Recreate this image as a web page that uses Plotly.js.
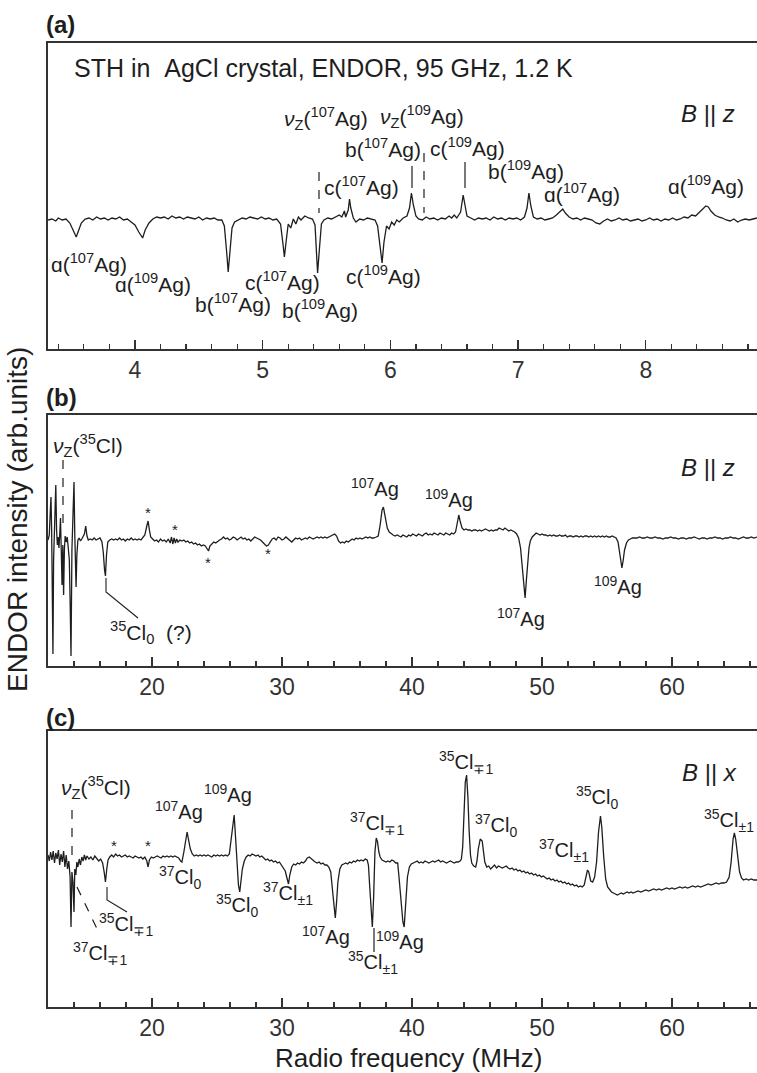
<!DOCTYPE html>
<html>
<head>
<meta charset="utf-8">
<script src="https://cdn.plot.ly/plotly-3.0.1.min.js"></script>
<style>html,body{margin:0;padding:0;background:#fff;}#chart{width:757px;height:1073px;}</style>
</head>
<body>
<div id="chart"></div>
<script>
// ---- Data: [frequency (MHz), ENDOR intensity (arb.)] ----
const specA = [[3.32,0],[3.35,1],[3.38,-1],[3.40,2],[3.43,0],[3.46,1],[3.49,-3],[3.52,-12],[3.54,-17],[3.56,-10],[3.58,-3],[3.61,1],[3.64,2],[3.67,0],[3.70,3],[3.73,1],[3.76,2],[3.79,0],[3.82,2],[3.85,1],[3.88,3],[3.91,0],[3.94,1],[3.97,-2],[4.00,-5],[4.03,-12],[4.06,-18],[4.08,-10],[4.11,-3],[4.14,1],[4.17,3],[4.20,2],[4.23,3],[4.26,1],[4.29,4],[4.32,2],[4.35,3],[4.38,1],[4.41,3],[4.44,2],[4.47,1],[4.50,3],[4.53,0],[4.56,2],[4.59,1],[4.62,2],[4.65,0],[4.68,0],[4.70,-6],[4.72,-35],[4.73,-52],[4.745,-30],[4.76,-8],[4.78,-2],[4.81,0],[4.84,2],[4.87,1],[4.90,3],[4.93,2],[4.96,1],[4.99,3],[5.02,1],[5.05,2],[5.08,0],[5.11,1],[5.14,-4],[5.16,-25],[5.17,-37],[5.185,-20],[5.20,-4],[5.22,-8],[5.24,1],[5.26,-4],[5.28,3],[5.30,0],[5.33,4],[5.36,2],[5.39,1],[5.41,-5],[5.42,-30],[5.43,-53],[5.445,-28],[5.46,-4],[5.48,0],[5.51,2],[5.54,1],[5.57,3],[5.60,5],[5.62,3],[5.64,9],[5.65,3],[5.67,10],[5.68,21],[5.69,12],[5.71,2],[5.73,-2],[5.76,1],[5.79,0],[5.82,2],[5.85,1],[5.88,0],[5.90,-6],[5.92,-25],[5.935,-43],[5.95,-22],[5.97,-6],[5.99,-9],[6.01,-2],[6.03,-5],[6.05,0],[6.07,-2],[6.10,2],[6.13,4],[6.15,12],[6.165,27],[6.18,15],[6.20,4],[6.22,1],[6.25,0],[6.28,3],[6.31,1],[6.34,2],[6.37,0],[6.40,2],[6.43,1],[6.46,4],[6.48,2],[6.50,5],[6.52,2],[6.55,8],[6.57,25],[6.585,14],[6.60,4],[6.63,2],[6.66,0],[6.69,2],[6.72,1],[6.75,2],[6.78,0],[6.81,3],[6.84,1],[6.87,2],[6.90,0],[6.93,2],[6.96,1],[6.99,2],[7.02,0],[7.05,3],[7.07,12],[7.085,27],[7.10,14],[7.12,3],[7.15,1],[7.18,2],[7.21,0],[7.24,1],[7.27,2],[7.30,5],[7.33,9],[7.35,11],[7.37,7],[7.40,3],[7.43,1],[7.46,2],[7.49,0],[7.52,2],[7.55,1],[7.58,0],[7.61,-3],[7.64,-4],[7.67,-1],[7.70,1],[7.73,-1],[7.76,0],[7.79,2],[7.82,0],[7.85,1],[7.88,-1],[7.91,0],[7.94,1],[7.97,-1],[8.00,0],[8.03,2],[8.06,0],[8.09,1],[8.12,-1],[8.15,1],[8.18,0],[8.21,2],[8.24,0],[8.27,1],[8.30,3],[8.33,2],[8.36,5],[8.39,4],[8.42,8],[8.45,12],[8.47,14],[8.49,13],[8.51,9],[8.54,5],[8.57,3],[8.60,2],[8.63,0],[8.66,-1],[8.69,1],[8.72,-2],[8.75,0],[8.78,1],[8.81,0],[8.84,1],[8.87,2]];

const specB = [[12.00,0],[12.10,5],[12.18,30],[12.23,43],[12.28,10],[12.33,-60],[12.38,-114],[12.43,-20],[12.48,5],[12.53,20],[12.60,55],[12.66,10],[12.72,-5],[12.78,3],[12.84,-8],[12.90,5],[12.96,22],[13.02,-10],[13.08,-45],[13.14,-5],[13.20,-55],[13.26,-10],[13.32,4],[13.40,-2],[13.48,3],[13.56,-8],[13.64,-20],[13.70,-60],[13.77,-116],[13.84,-10],[13.92,20],[14.00,58],[14.06,5],[14.12,-30],[14.16,-47],[14.22,-15],[14.30,0],[14.40,2],[14.50,-1],[14.60,1],[14.70,3],[14.80,6],[14.90,14],[15.00,4],[15.10,0],[15.25,1],[15.40,0],[15.55,2],[15.70,0],[15.85,1],[16.00,2],[16.15,-2],[16.25,-12],[16.35,-30],[16.42,-36],[16.50,-15],[16.60,-2],[16.75,0],[16.90,1],[17.05,0],[17.20,1],[17.35,0],[17.50,2],[17.65,0],[17.80,1],[17.95,-1],[18.10,1],[18.25,0],[18.40,2],[18.55,0],[18.70,1],[18.85,0],[19.00,1],[19.15,0],[19.30,2],[19.45,5],[19.60,14],[19.70,19],[19.80,10],[19.90,3],[20.05,1],[20.20,-1],[20.35,0],[20.50,-2],[20.65,1],[20.80,-1],[20.95,0],[21.10,-2],[21.25,1],[21.40,-3],[21.50,3],[21.60,-4],[21.70,2],[21.80,-3],[21.90,1],[22.00,-2],[22.15,0],[22.30,-1],[22.45,0],[22.60,-2],[22.75,-1],[22.90,-3],[23.05,-2],[23.20,-4],[23.35,-3],[23.50,-5],[23.65,-4],[23.80,-6],[23.95,-5],[24.10,-6],[24.25,-9],[24.35,-11],[24.45,-6],[24.60,-4],[24.75,-2],[24.90,-3],[25.05,-1],[25.20,0],[25.35,1],[25.50,3],[25.65,1],[25.80,2],[25.95,0],[26.10,1],[26.25,3],[26.40,2],[26.55,0],[26.70,2],[26.85,3],[27.00,1],[27.15,2],[27.30,0],[27.45,1],[27.60,-1],[27.75,1],[27.90,3],[28.05,2],[28.20,1],[28.35,0],[28.50,-2],[28.65,-4],[28.80,-6],[28.95,-5],[29.10,-2],[29.25,1],[29.40,2],[29.55,0],[29.70,3],[29.85,2],[30.00,0],[30.15,1],[30.30,3],[30.45,1],[30.60,-1],[30.75,-2],[30.90,0],[31.05,2],[31.20,1],[31.35,2],[31.50,0],[31.65,1],[31.80,2],[31.95,1],[32.10,3],[32.25,2],[32.40,1],[32.55,2],[32.70,3],[32.85,2],[33.00,3],[33.15,2],[33.30,3],[33.45,2],[33.60,3],[33.75,4],[33.90,5],[34.05,6],[34.20,4],[34.35,-1],[34.50,-3],[34.65,-2],[34.80,-3],[34.95,-1],[35.10,-2],[35.25,0],[35.40,1],[35.55,0],[35.70,2],[35.85,1],[36.00,2],[36.15,1],[36.30,2],[36.45,3],[36.60,2],[36.75,3],[36.90,2],[37.05,2],[37.25,3],[37.40,4],[37.55,15],[37.70,30],[37.80,33],[37.90,27],[38.00,18],[38.10,12],[38.25,8],[38.40,6],[38.55,5],[38.70,4],[38.85,5],[39.00,4],[39.15,3],[39.30,5],[39.45,4],[39.60,3],[39.75,5],[39.90,4],[40.05,6],[40.20,5],[40.35,4],[40.50,6],[40.65,5],[40.80,4],[40.95,6],[41.10,7],[41.25,5],[41.40,6],[41.55,5],[41.70,7],[41.85,6],[42.00,5],[42.15,7],[42.30,6],[42.45,5],[42.60,7],[42.75,6],[42.90,5],[43.05,7],[43.20,6],[43.35,8],[43.50,17],[43.60,25],[43.70,19],[43.85,12],[44.00,10],[44.15,11],[44.30,10],[44.45,10],[44.60,9],[44.75,10],[44.90,10],[45.05,9],[45.20,10],[45.35,9],[45.50,10],[45.65,11],[45.80,10],[45.95,9],[46.10,10],[46.25,9],[46.40,10],[46.55,10],[46.70,12],[46.85,11],[47.00,10],[47.15,12],[47.30,10],[47.45,9],[47.60,10],[47.75,9],[47.90,8],[48.05,6],[48.20,2],[48.35,-8],[48.50,-28],[48.60,-45],[48.70,-58],[48.80,-40],[48.90,-20],[49.00,-8],[49.10,-1],[49.25,3],[49.40,5],[49.55,7],[49.70,6],[49.85,5],[50.00,6],[50.15,5],[50.30,5],[50.45,4],[50.60,5],[50.75,4],[50.90,5],[51.05,4],[51.20,4],[51.35,5],[51.50,4],[51.65,4],[51.80,5],[51.95,3],[52.10,4],[52.25,4],[52.40,3],[52.55,4],[52.70,4],[52.85,3],[53.00,4],[53.15,3],[53.30,4],[53.45,4],[53.60,3],[53.75,4],[53.90,3],[54.05,4],[54.20,3],[54.35,4],[54.50,3],[54.65,4],[54.80,3],[54.95,4],[55.10,3],[55.25,3],[55.40,4],[55.55,3],[55.70,2],[55.85,-2],[55.95,-10],[56.05,-22],[56.15,-28],[56.25,-20],[56.35,-10],[56.50,-3],[56.65,0],[56.80,1],[56.95,2],[57.10,2],[57.30,2],[57.50,3],[57.70,2],[57.90,2],[58.10,3],[58.30,2],[58.50,2],[58.70,3],[58.90,2],[59.10,2],[59.30,1],[59.50,2],[59.70,2],[59.90,3],[60.10,2],[60.30,2],[60.50,1],[60.70,2],[60.90,2],[61.10,1],[61.30,2],[61.50,2],[61.70,3],[61.90,2],[62.10,1],[62.30,2],[62.50,2],[62.70,1],[62.90,2],[63.10,2],[63.30,3],[63.50,2],[63.70,2],[63.90,1],[64.10,2],[64.30,2],[64.50,3],[64.70,2],[64.90,2],[65.10,1],[65.30,2],[65.50,3],[65.70,2],[65.90,2],[66.10,3],[66.30,2],[66.55,3]];

const specC = [[12.00,2],[12.10,-4],[12.20,5],[12.30,-3],[12.40,6],[12.50,-6],[12.60,4],[12.70,-2],[12.80,7],[12.90,-8],[13.00,3],[13.10,-5],[13.20,6],[13.30,-10],[13.40,2],[13.50,-12],[13.60,-4],[13.70,-20],[13.77,-70],[13.84,-15],[13.92,-25],[14.00,-55],[14.06,-12],[14.14,-18],[14.22,-5],[14.30,-10],[14.40,-2],[14.50,-8],[14.60,0],[14.70,-4],[14.80,2],[14.90,-3],[15.00,1],[15.15,-2],[15.30,0],[15.45,-3],[15.60,1],[15.75,-1],[15.90,-4],[16.05,-2],[16.20,-6],[16.32,-15],[16.42,-25],[16.52,-12],[16.62,-3],[16.75,0],[16.90,2],[17.05,0],[17.20,3],[17.35,1],[17.50,2],[17.65,0],[17.80,1],[17.95,2],[18.10,0],[18.25,1],[18.40,0],[18.55,-1],[18.70,1],[18.85,0],[19.00,-1],[19.15,0],[19.30,-2],[19.45,0],[19.60,-4],[19.70,-10],[19.80,-3],[19.95,0],[20.10,-1],[20.25,0],[20.40,1],[20.55,0],[20.70,-1],[20.85,1],[21.00,0],[21.15,1],[21.30,0],[21.45,1],[21.60,0],[21.75,1],[21.90,0],[22.05,-1],[22.20,-4],[22.30,-5],[22.45,5],[22.60,20],[22.70,25],[22.80,18],[22.95,8],[23.10,3],[23.25,1],[23.40,2],[23.55,1],[23.70,2],[23.85,1],[24.00,2],[24.15,1],[24.30,2],[24.45,1],[24.60,0],[24.75,2],[24.90,1],[25.05,2],[25.20,1],[25.35,2],[25.50,1],[25.65,2],[25.80,1],[25.95,3],[26.10,20],[26.25,38],[26.32,42],[26.45,15],[26.55,-10],[26.65,-28],[26.75,-35],[26.85,-25],[26.95,-12],[27.10,-4],[27.25,0],[27.40,2],[27.55,1],[27.70,3],[27.85,2],[28.00,1],[28.15,2],[28.30,0],[28.45,1],[28.60,-1],[28.75,-3],[28.90,-2],[29.05,-4],[29.20,-3],[29.35,-5],[29.50,-4],[29.65,-6],[29.80,-5],[29.95,-8],[30.10,-10],[30.25,-14],[30.40,-22],[30.50,-27],[30.60,-18],[30.75,-10],[30.90,-7],[31.05,-8],[31.20,-6],[31.35,-7],[31.50,-5],[31.65,-6],[31.80,-4],[31.95,-1],[32.10,0],[32.25,-2],[32.40,-4],[32.55,-5],[32.70,-6],[32.85,-5],[33.00,-7],[33.15,-6],[33.30,-8],[33.45,-8],[33.60,-10],[33.75,-15],[33.90,-35],[34.00,-50],[34.10,-61],[34.20,-45],[34.30,-25],[34.45,-12],[34.60,-8],[34.75,-7],[34.90,-6],[35.05,-7],[35.20,-5],[35.35,-6],[35.50,-4],[35.65,-5],[35.80,-3],[35.95,-4],[36.10,-3],[36.25,-4],[36.40,-2],[36.55,-3],[36.65,-8],[36.75,-30],[36.85,-55],[36.95,-70],[37.05,-40],[37.15,5],[37.25,19],[37.35,15],[37.45,5],[37.55,0],[37.70,-3],[37.85,-4],[38.00,-5],[38.15,-4],[38.30,-5],[38.45,-3],[38.60,-4],[38.75,-6],[38.90,-6],[39.00,-20],[39.15,-45],[39.30,-65],[39.40,-70],[39.50,-45],[39.65,-20],[39.80,-10],[39.95,-7],[40.10,-6],[40.25,-5],[40.40,-4],[40.55,-6],[40.70,-5],[40.85,-6],[41.00,-4],[41.15,-5],[41.30,-6],[41.45,-5],[41.60,-4],[41.75,-5],[41.90,-4],[42.05,-3],[42.20,-5],[42.35,-4],[42.50,-5],[42.65,-6],[42.80,-5],[42.95,-4],[43.10,-5],[43.25,-6],[43.40,-5],[43.55,-5],[43.70,-4],[43.80,-2],[43.90,10],[44.00,45],[44.10,75],[44.20,82],[44.30,60],[44.40,25],[44.50,2],[44.60,-6],[44.75,-9],[44.90,-10],[45.00,-4],[45.10,8],[45.25,18],[45.40,16],[45.50,5],[45.60,-5],[45.75,-10],[45.90,-9],[46.05,-12],[46.20,-10],[46.35,-8],[46.50,-11],[46.65,-9],[46.80,-10],[46.95,-11],[47.10,-10],[47.25,-9],[47.40,-11],[47.55,-12],[47.70,-11],[47.85,-13],[48.00,-12],[48.15,-14],[48.30,-13],[48.45,-15],[48.60,-14],[48.75,-16],[48.90,-15],[49.05,-17],[49.20,-16],[49.35,-18],[49.50,-17],[49.65,-19],[49.80,-18],[49.95,-20],[50.10,-19],[50.25,-21],[50.40,-22],[50.55,-21],[50.70,-23],[50.85,-22],[51.00,-24],[51.15,-23],[51.30,-25],[51.45,-24],[51.60,-26],[51.75,-25],[51.90,-27],[52.05,-26],[52.20,-28],[52.35,-27],[52.50,-29],[52.65,-28],[52.80,-30],[52.95,-29],[53.10,-30],[53.25,-28],[53.40,-18],[53.50,-13],[53.60,-15],[53.75,-24],[53.90,-25],[54.05,-20],[54.20,-5],[54.35,25],[54.50,41],[54.60,30],[54.75,0],[54.90,-22],[55.05,-30],[55.20,-33],[55.35,-35],[55.50,-36],[55.65,-37],[55.80,-38],[55.95,-37],[56.10,-36],[56.25,-37],[56.40,-36],[56.55,-35],[56.70,-36],[56.85,-35],[57.00,-36],[57.20,-35],[57.40,-34],[57.60,-35],[57.80,-34],[58.00,-33],[58.20,-34],[58.40,-33],[58.60,-32],[58.80,-33],[59.00,-32],[59.20,-33],[59.40,-32],[59.60,-31],[59.80,-32],[60.00,-31],[60.20,-32],[60.40,-31],[60.60,-30],[60.80,-31],[61.00,-30],[61.20,-31],[61.40,-30],[61.60,-29],[61.80,-30],[62.00,-29],[62.20,-30],[62.40,-29],[62.60,-28],[62.80,-27],[63.00,-28],[63.20,-27],[63.40,-26],[63.60,-27],[63.80,-26],[64.00,-26],[64.20,-25],[64.40,-20],[64.55,-5],[64.70,18],[64.80,24],[64.90,18],[65.05,0],[65.20,-15],[65.35,-21],[65.50,-23],[65.70,-22],[65.90,-23],[66.10,-22],[66.30,-23],[66.55,-23]];

const panelLabels = ["(a)", "(b)", "(c)"];
const xTitle = "Radio frequency (MHz)";
const yTitle = "ENDOR intensity (arb.units)";

// ---- Layout helpers (pixel -> paper) ----
const W = 757, H = 1073;
const PX = p => p / W, PY = p => 1 - p / H;
const FONT = "Liberation Sans, Arial, sans-serif";
const INK = "#1e1e1e";

const traceStyle = {type: "scatter", mode: "lines", line: {color: INK, width: 1.3}, hoverinfo: "skip"};
const data = [
  Object.assign({x: specA.map(d => d[0]), y: specA.map(d => d[1]), xaxis: "x", yaxis: "y"}, traceStyle),
  Object.assign({x: specB.map(d => d[0]), y: specB.map(d => d[1]), xaxis: "x2", yaxis: "y2"}, traceStyle),
  Object.assign({x: specC.map(d => d[0]), y: specC.map(d => d[1]), xaxis: "x3", yaxis: "y3"}, traceStyle)
];

function xax(range, dtick, minor, anchor) {
  return {
    domain: [PX(48), 1], range: range, anchor: anchor,
    showline: true, linecolor: "#333", linewidth: 1.8, mirror: true,
    ticks: "inside", ticklen: 9, tickwidth: 1.3, tickcolor: "#333",
    dtick: dtick, tick0: 0,
    minor: {dtick: minor, ticks: "inside", ticklen: 5, tickwidth: 1.2, tickcolor: "#333"},
    tickfont: {family: FONT, size: 23, color: "#333"},
    ticklabelstandoff: 0,
    showgrid: false, zeroline: false, fixedrange: true
  };
}
function yax(range, top, bottom, anchor) {
  return {
    domain: [PY(bottom), PY(top)], range: range, anchor: anchor,
    showline: true, linecolor: "#333", linewidth: 1.8, mirror: false,
    ticks: "", showticklabels: false, showgrid: false, zeroline: false, fixedrange: true
  };
}

const annotations = [];
function A(text, px, py, size, extra) {
  annotations.push(Object.assign({
    text: text, xref: "paper", yref: "paper", x: PX(px), y: PY(py),
    xanchor: "center", yanchor: "middle", showarrow: false,
    font: {family: FONT, size: size || 21, color: INK}
  }, extra || {}));
}
const shapes = [];
function L(x0, y0, x1, y1, dash) {
  shapes.push({type: "line", xref: "paper", yref: "paper", x0: PX(x0), y0: PY(y0), x1: PX(x1), y1: PY(y1),
    line: {color: INK, width: 1.2, dash: dash ? "dash" : "solid"}});
}
function Path(pts) {
  let d = "M" + pts.map(p => PX(p[0]) + "," + PY(p[1])).join(" L");
  shapes.push({type: "path", xref: "paper", yref: "paper", path: d, line: {color: INK, width: 1.1}});
}
const sup = s => "<sup>" + s + "</sup>";
const sub = s => "<sub>" + s + "</sub>";
const nu = s => "<i>ν</i>" + sub("Z") + "(" + s + ")";
const ag = (l, m) => l + "(" + sup(m) + "Ag)";
const cl = (m, s) => sup(m) + "Cl" + sub(s);

// panel labels and titles
A("<b>" + panelLabels[0] + "</b>", 60, 24, 24);
A("<b>" + panelLabels[1] + "</b>", 61, 397, 24);
A("<b>" + panelLabels[2] + "</b>", 60, 717, 24);
A(xTitle, 408, 1058, 26);
A(yTitle, 17, 520, 28, {textangle: -90});

// ---- panel (a) ----
A("STH in\u00a0\u00a0AgCl crystal, ENDOR, 95 GHz, 1.2 K", 72, 68, 25, {xanchor: "left"});
A("<i>B</i> || <i>z</i>", 708, 113, 24);
A(nu(sup("107") + "Ag"), 326, 118);
A(nu(sup("109") + "Ag"), 422, 117);
A(ag("b", "107"), 383, 148);
A(ag("c", "107"), 361, 186);
A(ag("c", "109"), 467, 147);
A(ag("b", "109"), 526, 170);
A(ag("ɑ", "107"), 582, 193);
A(ag("ɑ", "109"), 706, 185);
A(ag("ɑ", "107"), 89, 263);
A(ag("ɑ", "109"), 153, 283);
A(ag("b", "107"), 233, 303);
A(ag("c", "107"), 282, 281);
A(ag("b", "109"), 320, 309);
A(ag("c", "109"), 383, 275);
L(319, 172, 319, 213, true);
L(412, 166, 412, 188, false);
L(424, 153, 424, 213, true);
L(465, 162, 465, 188, false);

// ---- panel (b) ----
A(nu(sup("35") + "Cl"), 88, 445);
L(63, 460, 63, 532, true);
A("*", 148, 512, 15); A("*", 175, 529, 15); A("*", 208, 562, 15); A("*", 268, 553, 15);
Path([[106, 578], [106, 592], [138, 618]]);
A(cl("35", "0") + "\u00a0\u00a0(?)", 151, 632);
A(sup("107") + "Ag", 375, 487, 20);
A(sup("109") + "Ag", 449, 498, 20);
A(sup("107") + "Ag", 521, 617, 20);
A(sup("109") + "Ag", 618, 585, 20);
A("<i>B</i> || <i>z</i>", 708, 467, 24);

// ---- panel (c) ----
A(nu(sup("35") + "Cl"), 96, 787);
L(72, 810, 72, 863, true);
L(77, 887, 99, 933, true);
A(cl("37", "∓1"), 100, 953, 20);
Path([[107, 887], [107, 900], [127, 912]]);
A(cl("35", "∓1"), 126, 925, 20);
A("*", 114, 845, 15); A("*", 148, 845, 15);
A(sup("107") + "Ag", 179, 810, 20);
A(sup("109") + "Ag", 228, 793, 20);
A(cl("37", "0"), 180, 878, 20);
A(cl("35", "0"), 237, 905, 20);
A(cl("37", "±1"), 288, 893, 20);
A(sup("107") + "Ag", 326, 935, 20);
A(cl("35", "±1"), 373, 962, 20);
L(374, 928, 374, 952, false);
A(sup("109") + "Ag", 400, 940, 20);
A(cl("37", "∓1"), 377, 823, 20);
A(cl("35", "∓1"), 466, 762, 20);
A(cl("37", "0"), 496, 825, 20);
A(cl("37", "±1"), 564, 850, 20);
A(cl("35", "0"), 597, 797, 20);
A(cl("35", "±1"), 729, 820, 20);
A("<i>B</i> || <i>x</i>", 709, 772, 24);

const layout = {
  width: W, height: H, margin: {l: 0, r: 0, t: 0, b: 0},
  paper_bgcolor: "#fff", plot_bgcolor: "#fff", showlegend: false,
  xaxis: xax([3.319, 8.871], 1, 0.2, "y"),
  yaxis: yax([-129, 177], 43, 349, "x"),
  xaxis2: xax([12.0, 66.54], 10, 2, "y2"),
  yaxis2: yax([-126, 125], 415, 666, "x2"),
  xaxis3: xax([12.0, 66.54], 10, 2, "y3"),
  yaxis3: yax([-150, 126], 731, 1007, "x3"),
  annotations: annotations, shapes: shapes
};
Plotly.newPlot("chart", data, layout, {staticPlot: true, displayModeBar: false});
</script>
</body>
</html>
